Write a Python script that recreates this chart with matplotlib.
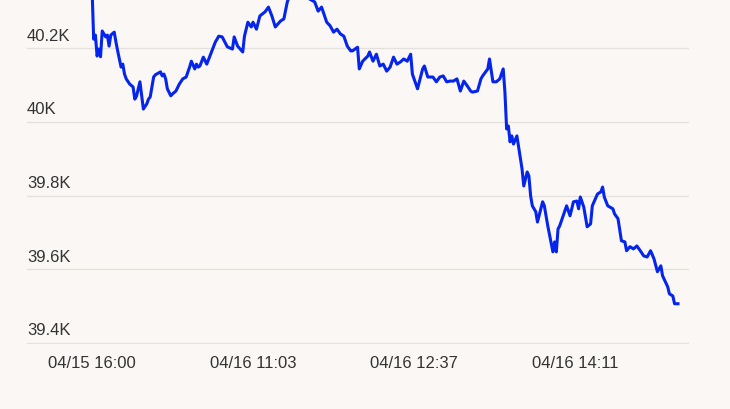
import matplotlib
matplotlib.use("Agg")
import matplotlib.pyplot as plt
import matplotlib.ticker as ticker

# minutes since first point (category-style time axis)
minutes = [0, 1, 2, 3, 4, 5, 6, 8, 9, 10, 11, 13, 14, 15, 17, 18, 19, 20, 22, 24,
           25, 26, 28, 30, 32, 33, 34, 36, 37, 40, 41, 42, 43, 44, 46, 47, 49, 51, 53, 55,
           56, 57, 58, 60, 61, 62, 63, 65, 67, 70, 72, 74, 76, 79, 82, 83, 85, 88, 89, 91,
           93, 94, 96, 98, 101, 103, 105, 107, 110, 112, 114, 119, 123, 126, 127, 130, 132, 134, 136, 137,
           139, 141, 143, 145, 147, 149, 151, 152, 155, 156, 158, 161, 162, 164, 166, 168, 170, 172, 174, 176,
           178, 180, 182, 184, 186, 187, 190, 193, 194, 196, 197, 199, 201, 203, 205, 207, 209, 211, 213, 215,
           217, 219, 221, 222, 225, 227, 228, 231, 232, 234, 236, 238, 240, 241, 242, 243, 244, 245, 246, 248,
           249, 251, 252, 254, 255, 256, 257, 259, 260, 263, 264, 266, 269, 270, 271, 272, 273, 275, 277, 279,
           281, 283, 284, 285, 287, 289, 291, 292, 295, 297, 298, 299, 301, 304, 305, 307, 309, 311, 312, 314,
           316, 318, 320, 322, 324, 326, 328, 330, 332, 333, 336, 337, 339, 340, 342]
prices = [40370, 40225, 40236, 40179, 40198, 40177, 40247, 40231, 40236, 40206, 40236, 40244, 40217, 40193, 40149, 40157, 40130, 40117, 40103, 40095,
          40062, 40070, 40109, 40035, 40049, 40062, 40068, 40122, 40128, 40136, 40125, 40130, 40117, 40090, 40071, 40076, 40084, 40103, 40117, 40122,
          40136, 40149, 40165, 40144, 40157, 40149, 40152, 40176, 40157, 40193, 40217, 40233, 40231, 40204, 40198, 40231, 40206, 40190, 40233, 40271,
          40258, 40271, 40252, 40288, 40299, 40312, 40288, 40258, 40274, 40280, 40326, 40390, 40400, 40375, 40334, 40326, 40301, 40312, 40285, 40271,
          40261, 40244, 40252, 40239, 40233, 40206, 40193, 40193, 40203, 40144, 40165, 40179, 40190, 40165, 40184, 40152, 40157, 40138, 40149, 40176,
          40157, 40163, 40171, 40165, 40184, 40130, 40090, 40144, 40152, 40122, 40122, 40122, 40109, 40122, 40125, 40109, 40111, 40111, 40117, 40084,
          40111, 40098, 40084, 40081, 40084, 40117, 40125, 40144, 40171, 40109, 40109, 40117, 40144, 40081, 39981, 39989, 39946, 39962, 39940, 39962,
          39932, 39872, 39826, 39864, 39853, 39799, 39772, 39756, 39728, 39783, 39772, 39718, 39647, 39674, 39647, 39709, 39718, 39745, 39772, 39745,
          39783, 39785, 39764, 39796, 39769, 39715, 39723, 39772, 39804, 39810, 39823, 39796, 39772, 39764, 39750, 39737, 39677, 39674, 39650, 39661,
          39655, 39663, 39650, 39636, 39633, 39650, 39628, 39593, 39609, 39582, 39552, 39533, 39527, 39506, 39506]

tick_pos = [0, 94, 188, 282]
tick_labels = ["04/15 16:00", "04/16 11:03", "04/16 12:37", "04/16 14:11"]
y_ticks = [39400, 39600, 39800, 40000, 40200]
y_labels = ["39.4K", "39.6K", "39.8K", "40K", "40.2K"]

bg = "#faf7f4"
txt = "#333333"
plt.rcParams["font.family"] = ["Liberation Sans", "DejaVu Sans"]

fig = plt.figure(figsize=(7.3, 4.1), dpi=100, facecolor=bg)
# axes reaches past the top of the figure so the line runs off the edge
y_lo, y_hi = 39396, 40450
px_per_unit = (410 * 0.842) / (40334 - 39396)
ax_h = (y_hi - y_lo) * px_per_unit / 410
ax = fig.add_axes([0.037, 0.158, 0.907, ax_h], facecolor=bg)

ax.plot(minutes, prices, color="#0525ec", lw=2.2, solid_joinstyle="round")

ax.set_xlim(-37.9, 348.5)
ax.set_ylim(y_lo, y_hi)

ax.set_yticks(y_ticks)
ax.yaxis.grid(True, color="#e4e0dc", lw=0.9)
ax.set_axisbelow(True)
ax.tick_params(axis="y", left=False, labelleft=False)
for v, lab in zip(y_ticks, y_labels):
    ax.annotate(lab, xy=(0, v), xycoords=ax.get_yaxis_transform(),
                xytext=(0, 4), textcoords="offset points",
                ha="left", va="bottom", fontsize=12, color=txt)

ax.xaxis.set_major_locator(ticker.FixedLocator(tick_pos))
ax.set_xticklabels(tick_labels)
ax.tick_params(axis="x", length=0, pad=8, labelsize=12, labelcolor=txt)

for s in ax.spines.values():
    s.set_visible(False)

fig.savefig("out.png", dpi=100, facecolor=bg)
